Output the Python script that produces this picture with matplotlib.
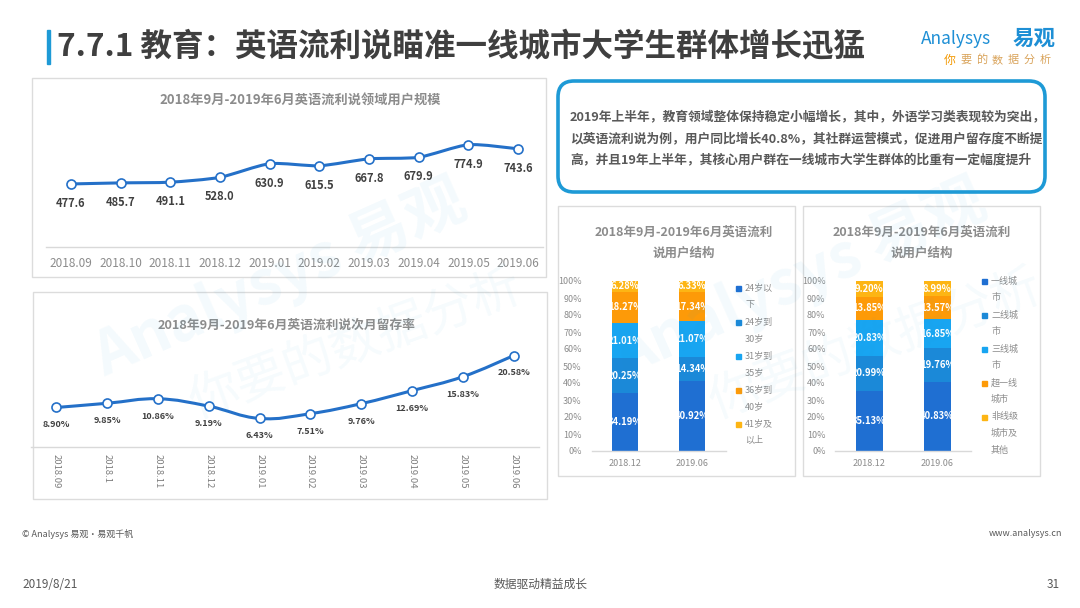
import matplotlib
matplotlib.use('Agg')
import matplotlib.pyplot as plt
from matplotlib.patches import Rectangle, FancyBboxPatch, PathPatch
from matplotlib.path import Path
import numpy as np

plt.rcParams['font.family'] = ['Noto Sans CJK SC', 'DejaVu Sans']

# ---- data ----
months = ['2018.09', '2018.10', '2018.11', '2018.12', '2019.01',
          '2019.02', '2019.03', '2019.04', '2019.05', '2019.06']
users = [477.6, 485.7, 491.1, 528.0, 630.9, 615.5, 667.8, 679.9, 774.9, 743.6]

months_short = ['2018.09', '2018.1', '2018.11', '2018.12', '2019.01',
                '2019.02', '2019.03', '2019.04', '2019.05', '2019.06']
retention = [8.90, 9.85, 10.86, 9.19, 6.43, 7.51, 9.76, 12.69, 15.83, 20.58]

periods = ['2018.12', '2019.06']
age_groups = ['24岁以下', '24岁到30岁', '31岁到35岁', '36岁到40岁', '41岁及以上']
age_share = [[34.19, 40.92], [20.25, 14.34], [21.01, 21.07], [18.27, 17.34], [6.28, 6.33]]
city_groups = ['一线城市', '二线城市', '三线城市', '超一线城市', '非线级城市及其他']
city_share = [[35.13, 40.83], [20.99, 19.76], [20.83, 16.85], [13.85, 13.57], [9.20, 8.99]]

seg_colors = ['#1f6fd2', '#1b89d8', '#18a5f1', '#fd9a08', '#fdb514']
blue = '#2470c8'
gray_txt = '#8c8c8c'
dark_txt = '#404040'
W, H = 1080, 608

fig = plt.figure(figsize=(W / 100, H / 100), dpi=100)
fig.patch.set_facecolor('white')

# background axes in pixel coordinates for the slide decoration
bg = fig.add_axes([0, 0, 1, 1], zorder=-5)
bg.set_xlim(0, W)
bg.set_ylim(H, 0)
bg.axis('off')


def px_axes(x0, y0, x1, y1):
    ax = fig.add_axes([x0 / W, 1 - y1 / H, (x1 - x0) / W, (y1 - y0) / H])
    ax.patch.set_alpha(0)
    for s in ['top', 'right', 'left']:
        ax.spines[s].set_visible(False)
    ax.spines['bottom'].set_color('#d9d9d9')
    ax.spines['bottom'].set_linewidth(1)
    return ax


def smooth_path(xs, ys, k):
    verts = [(xs[0], ys[0])]
    codes = [Path.MOVETO]
    n = len(xs)
    for i in range(n - 1):
        a, b = max(i - 1, 0), min(i + 2, n - 1)
        c1 = (xs[i] + (xs[i + 1] - xs[a]) * k, ys[i] + (ys[i + 1] - ys[a]) * k)
        c2 = (xs[i + 1] - (xs[b] - xs[i]) * k, ys[i + 1] - (ys[b] - ys[i]) * k)
        verts += [c1, c2, (xs[i + 1], ys[i + 1])]
        codes += [Path.CURVE4] * 3
    return Path(verts, codes)


def wrap3(label):
    lines, cur, w = [], '', 0
    for ch in label:
        cw = 0.5 if ch.isdigit() else 1
        if w + cw > 3:
            lines.append(cur)
            cur, w = '', 0
        cur += ch
        w += cw
    lines.append(cur)
    return lines


# ---- header ----
bg.add_patch(Rectangle((47, 30), 3, 34, color='#1e9ad6'))
bg.text(57, 47, '7.7.1 教育：英语流利说瞄准一线城市大学生群体增长迅猛', fontsize=22.7,
        fontweight='bold', color='#3f3f3f', va='center', ha='left')
bg.text(921, 39, 'Analysys', fontsize=12.5, style='italic', color='#1e8fd5', va='center')
bg.text(1056, 38, '易观', fontsize=15.5, fontweight='bold', color='#1e8fd5', va='center', ha='right')
for i, ch in enumerate('你要的数据分析'):
    bg.text(944 + i * 16, 60, ch, fontsize=8.5 if i == 0 else 8, style='italic',
            color='#f39800' if i == 0 else '#d9a35a', va='center', ha='left')

# ---- panel boxes ----
for (x0, y0, x1, y1) in [(32, 78, 546, 277), (33, 292, 547, 499),
                         (558, 206, 795, 476), (803, 206, 1040, 476)]:
    bg.add_patch(Rectangle((x0, y0), x1 - x0, y1 - y0, fill=False,
                           edgecolor='#dcdcdc', lw=1))

# ---- text box ----
bg.add_patch(FancyBboxPatch((558, 81), 487, 111, boxstyle='round,pad=0,rounding_size=16',
                            fill=False, edgecolor='#1e9ad6', lw=2.6))
box_lines = ['2019年上半年，教育领域整体保持稳定小幅增长，其中，外语学习类表现较为突出，',
             '以英语流利说为例，用户同比增长40.8%，其社群运营模式，促进用户留存度不断提',
             '高，并且19年上半年，其核心用户群在一线城市大学生群体的比重有一定幅度提升']
for i, line in enumerate(box_lines):
    bg.text(570, 117 + i * 21.5, line, fontsize=9.2, fontweight='bold', color='#595959',
            va='center', ha='left')

# ---- panel 1: user scale ----
bg.text(300, 100, '2018年9月-2019年6月英语流利说领域用户规模', fontsize=9.5,
        fontweight='bold', color=gray_txt, ha='center', va='center')
ax1 = px_axes(46, 115, 543, 247)
x1 = np.arange(len(months))
ax1.add_patch(PathPatch(smooth_path(x1, users, 0.12), fill=False, edgecolor=blue, lw=2.2))
ax1.plot(x1, users, 'o', ms=6.5, mfc='white', mec=blue, mew=1.2)
for xi, v in zip(x1, users):
    ax1.annotate(f'{v:.1f}', (xi, v), xytext=(0, -14), textcoords='offset points',
                 ha='center', va='center', fontsize=8, fontweight='bold', color=dark_txt)
ax1.set_xlim(-0.5, 9.5)
ax1.set_ylim(0, 1000)
ax1.set_yticks([])
ax1.set_xticks(x1, months)
ax1.tick_params(axis='x', length=0, pad=7, labelsize=8.5, labelcolor=gray_txt)

# ---- panel 2: retention ----
bg.text(287, 325, '2018年9月-2019年6月英语流利说次月留存率', fontsize=9.2,
        fontweight='bold', color=gray_txt, ha='center', va='center')
ax2 = px_axes(31, 336, 539, 447)
x2 = np.arange(len(months_short))
ax2.add_patch(PathPatch(smooth_path(x2, retention, 0.2), fill=False, edgecolor=blue, lw=2.2))
ax2.plot(x2, retention, 'o', ms=6.5, mfc='white', mec=blue, mew=1.2)
for xi, v in zip(x2, retention):
    ax2.annotate(f'{v:.2f}%', (xi, v), xytext=(0, -12.5), textcoords='offset points',
                 ha='center', va='center', fontsize=6.5, fontweight='bold', color=dark_txt)
ax2.set_xlim(-0.5, 9.5)
ax2.set_ylim(0, 25)
ax2.set_yticks([])
ax2.set_xticks(x2, months_short, rotation=270)
ax2.tick_params(axis='x', length=0, pad=5, labelsize=6.8, labelcolor='#7f7f7f')


# ---- panels 3 and 4: stacked bars ----
def stacked(ax_box, title_x, groups, shares, leg_x, leg_y):
    bg.text(title_x, 232, '2018年9月-2019年6月英语流利', fontsize=9, fontweight='bold',
            color=gray_txt, ha='center', va='center')
    bg.text(title_x, 253, '说用户结构', fontsize=9, fontweight='bold',
            color=gray_txt, ha='center', va='center')
    ax = px_axes(*ax_box)
    xb = np.arange(len(periods))
    bottom = np.zeros(len(periods))
    for vals, col in zip(shares, seg_colors):
        bars = ax.bar(xb, vals, 0.4, bottom=bottom, color=col)
        ax.bar_label(bars, labels=[f'{v:.2f}%' for v in vals], label_type='center',
                     color='white', fontsize=6.8, fontweight='bold')
        bottom += np.array(vals)
    ax.set_xlim(-0.5, 1.5)
    ax.set_ylim(0, 100)
    ax.set_yticks(range(0, 101, 10), [f'{t}%' for t in range(0, 101, 10)])
    ax.set_xticks(xb, periods)
    ax.tick_params(axis='both', length=0, labelsize=6.5, labelcolor=gray_txt)
    ax.tick_params(axis='y', pad=7)
    ax.tick_params(axis='x', pad=6)
    y = leg_y
    for name, col in zip(groups, seg_colors):
        bg.add_patch(Rectangle((leg_x - 9, y - 2.5), 5, 5, color=col))
        lines = wrap3(name)
        for k, ln in enumerate(lines):
            bg.text(leg_x, y + k * 16.5, ln, fontsize=6.5, color=gray_txt,
                    ha='left', va='center')
        y += 34


stacked((591.5, 281, 725.5, 451), 684, age_groups, age_share, 745, 288)
stacked((835.3, 281, 971.3, 451), 922, city_groups, city_share, 991, 281)

# ---- watermark ----
for dx in [0, 520]:
    fig.text((280 + dx) / W, 1 - 280 / H, 'Analysys 易观', fontsize=44, fontweight='bold',
             color='#1e9ad6', alpha=0.05, rotation=24, ha='center', va='center')
    fig.text((355 + dx) / W, 1 - 345 / H, '你要的数据分析', fontsize=36,
             color='#1e9ad6', alpha=0.045, rotation=20, ha='center', va='center')

# ---- footer ----
bg.text(22, 534, '© Analysys 易观·易观千帆', fontsize=6.5, color='#595959', va='center')
bg.text(1062, 534, 'www.analysys.cn', fontsize=6.5, color='#595959', va='center', ha='right')
bg.text(22, 584, '2019/8/21', fontsize=8.5, color='#595959', va='center')
bg.text(541, 584, '数据驱动精益成长', fontsize=8.5, color='#595959', va='center', ha='center')
bg.text(1060, 584, '31', fontsize=8.5, color='#595959', va='center', ha='right')

fig.savefig('out.png', dpi=100)
